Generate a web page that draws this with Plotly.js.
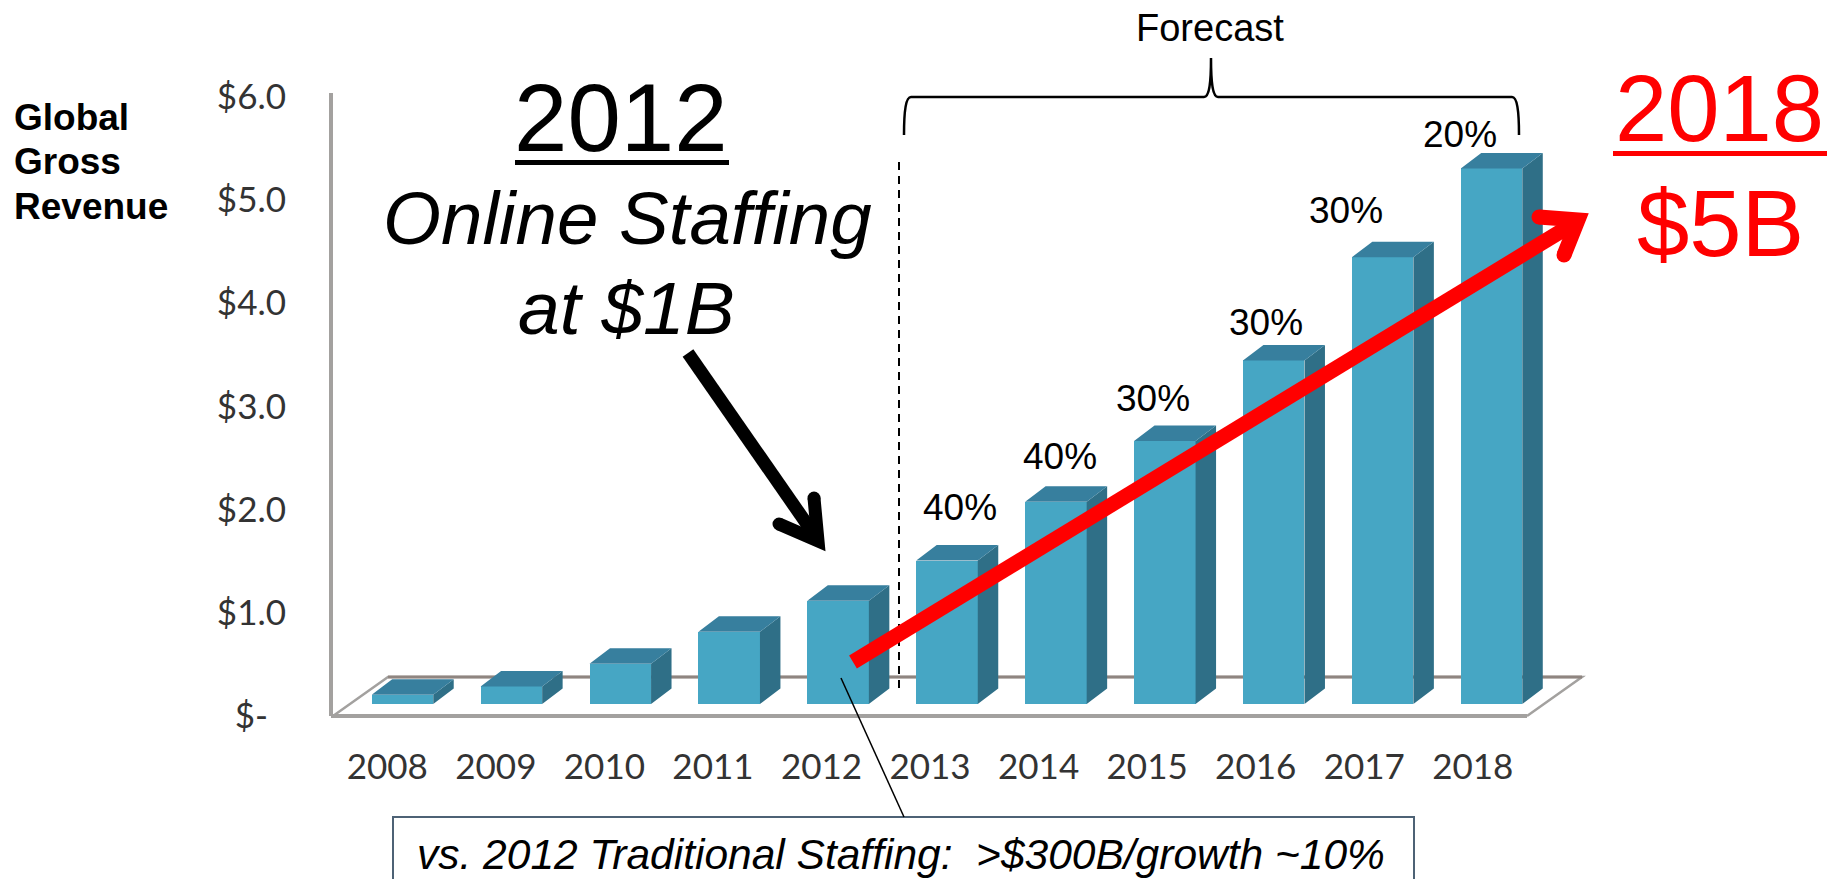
<!DOCTYPE html>
<html>
<head>
<meta charset="utf-8">
<title>Online Staffing Global Gross Revenue</title>
<script src="https://cdn.plot.ly/plotly-3.0.1.min.js"></script>
<style>
  html, body { margin: 0; padding: 0; background: #fff; overflow: hidden; }
  #chart { width: 1845px; height: 879px; }
</style>
</head>
<body>
<div id="chart"></div>
<script>
// Revenue in $B per year
const years = [2008, 2009, 2010, 2011, 2012, 2013, 2014, 2015, 2016, 2017, 2018];
const revenue = [0.09, 0.17, 0.39, 0.70, 1.0, 1.39, 1.96, 2.55, 3.33, 4.33, 5.19];

// Value axis labels
const valueTicks = [0, 1, 2, 3, 4, 5, 6];
const valueTickText = ['$-\u00a0\u00a0', '$1.0', '$2.0', '$3.0', '$4.0', '$5.0', '$6.0'];

// Year-on-year growth callouts for the forecast years
const growthLabels = ['40%', '40%', '30%', '30%', '30%', '20%'];
const growthCenterX = [960, 1060, 1153, 1266, 1346, 1460];
const growthBaseline = [521, 470, 412, 336, 224, 148];

const W = 1845, H = 879;
const px = x => x / W;
const py = y => 1 - y / H;

// Plot frame in page pixels; the right side leaves room for the floor depth
const FRAME = { left: 333, right: 1600, top: 93, bottom: 716 };

// Pseudo-3D extrusion of the columns, in axis units
const BAR_WIDTH = 0.565, DEPTH_X = 0.188, DEPTH_Y = 0.15;

// Extruded faces built from the data values
const topX = [], topY = [], sideX = [], sideY = [];
years.forEach((yr, i) => {
  const v = revenue[i], l = yr - BAR_WIDTH / 2, r = yr + BAR_WIDTH / 2;
  topX.push(l, r, r + DEPTH_X, l + DEPTH_X, l, null);
  topY.push(v, v, v + DEPTH_Y, v + DEPTH_Y, v, null);
  sideX.push(r, r, r + DEPTH_X, r + DEPTH_X, r, null);
  sideY.push(0, v, v + DEPTH_Y, DEPTH_Y, 0, null);
});

const traces = [
  { type: 'scatter', x: years, y: years.map(() => 0), xaxis: 'x', yaxis: 'y', mode: 'none',
    hoverinfo: 'skip', showlegend: false },
  { type: 'bar', x: years, y: revenue, width: BAR_WIDTH, xaxis: 'x2', yaxis: 'y2',
    marker: { color: '#46a6c4', line: { width: 0 } }, hoverinfo: 'x+y', showlegend: false },
  { type: 'scatter', x: sideX, y: sideY, xaxis: 'x2', yaxis: 'y2', mode: 'lines', fill: 'toself',
    fillcolor: '#2f6f87', line: { width: 0, color: '#2f6f87' }, hoverinfo: 'skip', showlegend: false },
  { type: 'scatter', x: topX, y: topY, xaxis: 'x2', yaxis: 'y2', mode: 'lines', fill: 'toself',
    fillcolor: '#377f9e', line: { width: 0, color: '#377f9e' }, hoverinfo: 'skip', showlegend: false }
];

const SANS = 'Liberation Sans, Arial, sans-serif';
const DESCENT = 0.212;

// Text placed by its baseline in page pixels
function label(text, x, baseline, size, opts) {
  const o = opts || {};
  return {
    text, xref: 'paper', yref: 'paper', showarrow: false, borderpad: 0,
    x: px(x), y: py(baseline + DESCENT * size),
    xanchor: o.anchor || 'center', yanchor: 'bottom',
    font: { family: SANS, size, color: o.color || '#000' }
  };
}

function path(points) {
  return points.map((p, i) => (i ? 'L' : 'M') + px(p[0]) + ',' + py(p[1])).join(' ');
}
function stroke(points, color, width, extra) {
  return Object.assign({
    type: 'path', xref: 'paper', yref: 'paper', layer: 'above',
    path: path(points), line: { color, width }, fillcolor: 'rgba(0,0,0,0)'
  }, extra || {});
}
function dot(x, y, r, color) {
  return { type: 'circle', xref: 'paper', yref: 'paper', layer: 'above',
    x0: px(x - r), x1: px(x + r), y0: py(y + r), y1: py(y - r),
    fillcolor: color, line: { width: 0 } };
}
function rule(x0, x1, y0, y1, color) {
  return { type: 'rect', xref: 'paper', yref: 'paper', layer: 'above',
    x0: px(x0), x1: px(x1), y0: py(y1), y1: py(y0), fillcolor: color, line: { width: 0 } };
}

// Forecast brace drawn with cubic segments
const b = (x, y) => px(x) + ',' + py(y);
const bracePath = 'M' + b(904, 135) + ' C' + b(904, 110) + ' ' + b(906, 97) + ' ' + b(911, 97) +
  ' L' + b(1204, 97) + ' C' + b(1209, 97) + ' ' + b(1211, 85) + ' ' + b(1211, 58) +
  ' C' + b(1211, 85) + ' ' + b(1213, 97) + ' ' + b(1218, 97) +
  ' L' + b(1512, 97) + ' C' + b(1517, 97) + ' ' + b(1519, 110) + ' ' + b(1519, 135);

const FLOOR = '#a3a19f', BACK = '#8f8580';

const shapes = [
  // Floor of the chart
  stroke([[333, 716], [388, 677], [1582, 677], [1527, 716]], FLOOR, 2.5, { layer: 'below' }),
  stroke([[388, 677], [1582, 677]], BACK, 3, { layer: 'below' }),
  stroke([[331, 716], [1527, 716]], FLOOR, 4, { layer: 'below' }),
  // Forecast divider and bracket
  stroke([[899, 162], [899, 688]], '#000', 2, { line: { color: '#000', width: 2, dash: '8px,6px' } }),
  { type: 'path', xref: 'paper', yref: 'paper', layer: 'above', path: bracePath,
    line: { color: '#000', width: 2.5 }, fillcolor: 'rgba(0,0,0,0)' },
  // Callout box and leader
  { type: 'rect', xref: 'paper', yref: 'paper', layer: 'above',
    x0: px(393), x1: px(1414), y0: py(895), y1: py(817),
    line: { color: '#4d6275', width: 2 }, fillcolor: '#fff' },
  stroke([[841, 678], [904, 817]], '#000', 1.5),
  // Headline underlines
  rule(515, 729, 160, 165, '#000'),
  rule(1613, 1827, 151, 156, '#ff0000'),
  // Black arrow towards 2012
  stroke([[688, 353], [818, 540]], '#000', 13),
  stroke([[779, 524], [818, 541], [814, 498]], '#000', 13),
  dot(779, 524, 6.5, '#000'),
  dot(814, 498, 6.5, '#000'),
  // Red growth arrow towards 2018
  stroke([[853, 662], [1578, 221]], '#ff0000', 15),
  stroke([[1539, 217], [1578, 220], [1564, 255]], '#ff0000', 15),
  dot(1539, 217, 7.5, '#ff0000'),
  dot(1564, 255, 7.5, '#ff0000')
];

const annotations = [
  label('<b>Global</b>', 13, 131, 37, { anchor: 'left' }),
  label('<b>Gross</b>', 13, 175, 37, { anchor: 'left' }),
  label('<b>Revenue</b>', 13, 220, 37, { anchor: 'left' }),
  label('2012', 621, 152, 96),
  label('<i>Online Staffing</i>', 627, 245, 74.5),
  label('<i>at $1B</i>', 626, 335, 75),
  label('2018', 1719, 142, 94, { color: '#ff0000' }),
  label('$5B', 1720.5, 257, 94, { color: '#ff0000' }),
  label('Forecast', 1210, 42, 38),
  label('<i>vs. 2012 Traditional Staffing:  &gt;$300B/growth ~10%</i>', 901, 870, 42.5)
].concat(growthLabels.map((t, i) => label(t, growthCenterX[i], growthBaseline[i], 37)));

const TICK_FONT = { family: 'Lato, Carlito, sans-serif', size: 35, color: '#333333' };
const domainX = [px(FRAME.left), px(FRAME.right)];
const domainY = [py(FRAME.bottom), py(FRAME.top)];

const layout = {
  width: W, height: H,
  margin: { l: 0, r: 0, t: 0, b: 0, pad: 0 },
  paper_bgcolor: '#fff', plot_bgcolor: 'rgba(0,0,0,0)',
  showlegend: false, bargap: 0,
  // Front plane of the frame: carries the tick labels
  xaxis: {
    domain: domainX, range: [2007.5, 2019.172], anchor: 'y', fixedrange: true,
    tickmode: 'array', tickvals: years, ticktext: years.map(String),
    ticks: '', ticklabelstandoff: 27, tickfont: TICK_FONT,
    showgrid: false, zeroline: false, showline: false
  },
  yaxis: {
    domain: domainY, range: [0, 6.037], anchor: 'x', fixedrange: true,
    tickmode: 'array', tickvals: valueTicks, ticktext: valueTickText,
    ticks: '', ticklabelstandoff: 36, tickfont: TICK_FONT,
    showgrid: false, zeroline: false, showline: true, linecolor: FLOOR, linewidth: 4
  },
  // Plane the columns stand on, set back from the front of the frame
  xaxis2: { domain: domainX, range: [2007.362, 2018.996], overlaying: 'x', anchor: 'y2',
    visible: false, fixedrange: true },
  yaxis2: { domain: domainY, range: [-0.116, 5.921], overlaying: 'y', anchor: 'x2',
    visible: false, fixedrange: true },
  shapes, annotations
};

Plotly.newPlot('chart', traces, layout, { displayModeBar: false, responsive: false });
</script>
</body>
</html>
